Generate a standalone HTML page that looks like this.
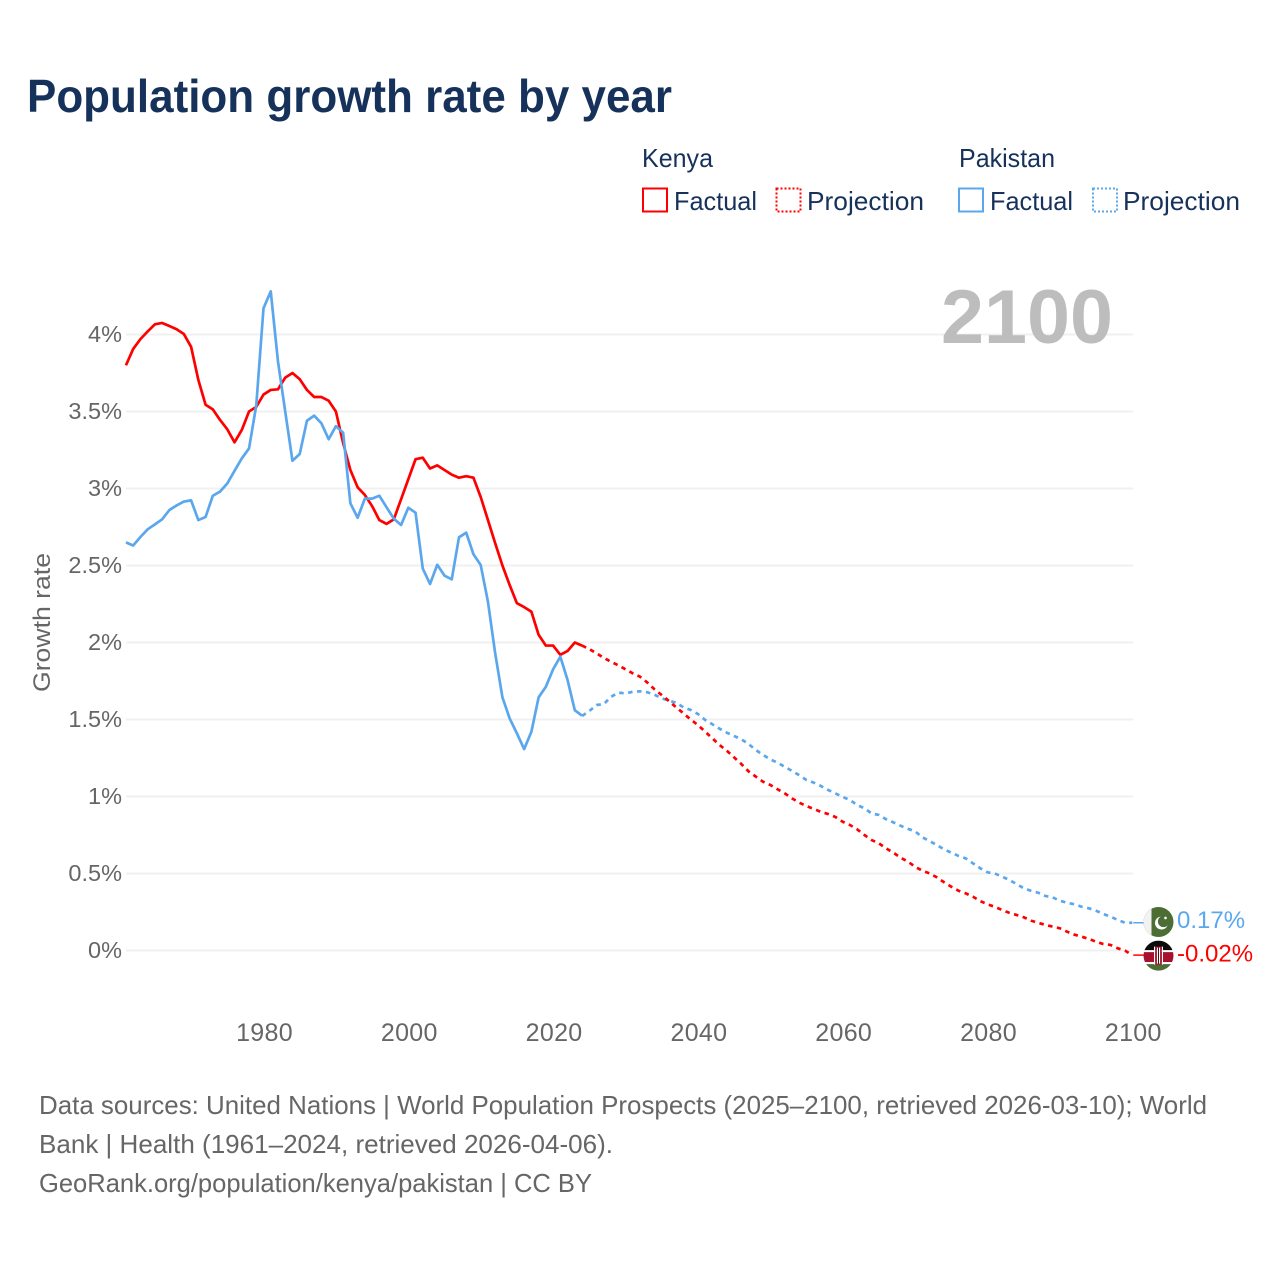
<!DOCTYPE html>
<html lang="en">
<head>
<meta charset="utf-8">
<title>Population growth rate by year</title>
<style>
html,body{margin:0;padding:0;background:#fff;}
svg{display:block;font-family:"Liberation Sans",sans-serif;}
</style>
</head>
<body>
<svg id="chart" width="1280" height="1280" viewBox="0 0 1280 1280" xmlns="http://www.w3.org/2000/svg">
  <defs>
    <clipPath id="flag-clip"><circle cx="0" cy="0" r="15"/></clipPath>
  </defs>
  <text x="27" y="112" font-size="46" font-weight="700" fill="#17325a" textLength="645" lengthAdjust="spacingAndGlyphs">Population growth rate by year</text>

  <g font-size="26" fill="#17325a">
    <text x="642" y="167" textLength="71" lengthAdjust="spacingAndGlyphs">Kenya</text>
    <rect x="643" y="188.5" width="24" height="23" fill="none" stroke="#ff0000" stroke-width="2"/>
    <text x="674" y="210" textLength="83" lengthAdjust="spacingAndGlyphs">Factual</text>
    <rect x="776.5" y="188.5" width="24" height="23" fill="none" stroke="#ff0000" stroke-width="2" stroke-dasharray="2 2"/>
    <text x="807" y="210" textLength="117" lengthAdjust="spacingAndGlyphs">Projection</text>
    <text x="959" y="167" textLength="96" lengthAdjust="spacingAndGlyphs">Pakistan</text>
    <rect x="959" y="188.5" width="24" height="23" fill="none" stroke="#5ba7ee" stroke-width="2"/>
    <text x="990" y="210" textLength="83" lengthAdjust="spacingAndGlyphs">Factual</text>
    <rect x="1093" y="188.5" width="24" height="23" fill="none" stroke="#5ba7ee" stroke-width="2" stroke-dasharray="2 2"/>
    <text x="1123" y="210" textLength="117" lengthAdjust="spacingAndGlyphs">Projection</text>
  </g>

  <g id="grid"></g>
  <g id="yticks"></g>
  <g id="xticks"></g>

  <text x="941" y="343" font-size="76" font-weight="700" fill="#bdbdbd" textLength="172" lengthAdjust="spacingAndGlyphs">2100</text>
  <text transform="translate(50,692) rotate(-90)" font-size="24" fill="#666666" textLength="139" lengthAdjust="spacingAndGlyphs">Growth rate</text>

  <g id="series"></g>

  <g id="flag-pakistan">
    <g clip-path="url(#flag-clip)">
      <rect x="-15" y="-15" width="30" height="30" fill="#4c6d33"/>
      <rect x="-15" y="-15" width="8" height="30" fill="#f2f2f2"/>
      <circle cx="3" cy="1" r="6.5" fill="#ffffff"/>
      <circle cx="5" cy="-0.5" r="5.6" fill="#4c6d33"/>
      <circle cx="7" cy="-4" r="1.3" fill="#ffffff"/>
    </g>
  </g>
  <g id="flag-kenya">
    <g clip-path="url(#flag-clip)">
      <rect x="-15" y="-15" width="30" height="10" fill="#0b0b0b"/>
      <rect x="-15" y="-5.5" width="30" height="11" fill="#ffffff"/>
      <rect x="-15" y="-3.5" width="30" height="10" fill="#a8112e"/>
      <rect x="-15" y="6.5" width="30" height="2" fill="#ffffff"/>
      <rect x="-15" y="8.5" width="30" height="7" fill="#4c6d33"/>
      <rect x="-4.5" y="-9" width="1.2" height="18" fill="#ffffff"/>
      <rect x="3.3" y="-9" width="1.2" height="18" fill="#ffffff"/>
      <rect x="-3.3" y="-9" width="6.6" height="18" fill="#a8112e"/>
      <rect x="-1.6" y="-8" width="1.2" height="16" fill="#ffffff"/>
      <rect x="0.4" y="-8" width="1.2" height="16" fill="#ffffff"/>
      <rect x="-0.4" y="-8" width="0.8" height="16" fill="#111111"/>
    </g>
  </g>
  <g id="end-labels"></g>

  <g font-size="26" fill="#666666">
    <text x="39" y="1114" textLength="1168" lengthAdjust="spacingAndGlyphs">Data sources: United Nations | World Population Prospects (2025–2100, retrieved 2026-03-10); World</text>
    <text x="39" y="1153" textLength="574" lengthAdjust="spacingAndGlyphs">Bank | Health (1961–2024, retrieved 2026-04-06).</text>
    <text x="39" y="1192" textLength="553" lengthAdjust="spacingAndGlyphs">GeoRank.org/population/kenya/pakistan | CC BY</text>
  </g>
</svg>
<script>
var factualStartYear = 1961;
var projectionStartYear = 2024;
var yTickValues = [0, 0.5, 1, 1.5, 2, 2.5, 3, 3.5, 4];
var yTickLabels = ['0%', '0.5%', '1%', '1.5%', '2%', '2.5%', '3%', '3.5%', '4%'];
var xTickYears = [1980, 2000, 2020, 2040, 2060, 2080, 2100];
var kenyaFactual = [3.80,3.906,3.97,4.02,4.066,4.075,4.055,4.034,4.003,3.92,3.705,3.544,3.514,3.445,3.384,3.30,3.38,3.50,3.53,3.61,3.64,3.644,3.72,3.75,3.71,3.64,3.594,3.594,3.57,3.50,3.295,3.12,3.008,2.958,2.886,2.795,2.77,2.80,2.93,3.06,3.19,3.20,3.13,3.15,3.12,3.09,3.07,3.08,3.07,2.945,2.795,2.645,2.50,2.373,2.255,2.23,2.20,2.05,1.98,1.98,1.92,1.945,2.00,1.98];
var pakistanFactual = [2.65,2.63,2.685,2.735,2.767,2.80,2.86,2.89,2.915,2.923,2.795,2.815,2.953,2.98,3.033,3.115,3.195,3.26,3.54,4.17,4.28,3.825,3.50,3.18,3.224,3.44,3.473,3.423,3.32,3.405,3.362,2.904,2.81,2.934,2.934,2.953,2.878,2.804,2.763,2.875,2.843,2.48,2.38,2.505,2.434,2.41,2.683,2.713,2.573,2.503,2.265,1.93,1.644,1.507,1.41,1.308,1.42,1.644,1.713,1.826,1.908,1.756,1.56,1.525];
var kenyaProjection = [1.98,1.957,1.93,1.90,1.875,1.852,1.826,1.80,1.778,1.741,1.696,1.659,1.62,1.579,1.54,1.50,1.464,1.421,1.378,1.334,1.297,1.254,1.211,1.163,1.129,1.096,1.075,1.047,1.02,0.988,0.96,0.938,0.919,0.90,0.886,0.867,0.836,0.815,0.787,0.75,0.717,0.696,0.663,0.635,0.603,0.577,0.544,0.518,0.501,0.475,0.443,0.414,0.388,0.371,0.349,0.321,0.30,0.284,0.263,0.245,0.231,0.216,0.194,0.18,0.166,0.155,0.144,0.122,0.103,0.09,0.075,0.057,0.042,0.036,0.014,-0.001,-0.03];
var pakistanProjection = [1.523,1.555,1.594,1.60,1.647,1.674,1.67,1.68,1.683,1.677,1.661,1.638,1.622,1.609,1.579,1.562,1.536,1.497,1.469,1.44,1.414,1.393,1.371,1.341,1.302,1.27,1.241,1.22,1.193,1.166,1.138,1.107,1.09,1.068,1.042,1.02,0.997,0.977,0.945,0.923,0.89,0.88,0.852,0.832,0.81,0.79,0.774,0.735,0.711,0.685,0.657,0.635,0.614,0.598,0.566,0.534,0.508,0.50,0.48,0.458,0.432,0.404,0.388,0.375,0.354,0.345,0.323,0.31,0.30,0.284,0.274,0.258,0.237,0.22,0.198,0.18,0.18];
var endLabelPakistan = '0.17%';
var endLabelKenya = '-0.02%';

var SVG_NS = 'http://www.w3.org/2000/svg';
var RED = '#ff0000';
var BLUE = '#5ba7ee';
var FLAG_X = 1158.5;

function xScale(year) { return 263.5 + (year - 1980) * 7.24; }
function yScale(value) { return 950.5 - value * 154; }

function make(tag, attrs, parent) {
  var el = document.createElementNS(SVG_NS, tag);
  for (var k in attrs) { el.setAttribute(k, attrs[k]); }
  parent.appendChild(el);
  return el;
}

function linePath(values, startYear) {
  var d = '';
  for (var i = 0; i < values.length; i++) {
    d += (i === 0 ? 'M' : 'L') + xScale(startYear + i).toFixed(2) + ' ' + yScale(values[i]).toFixed(2) + ' ';
  }
  return d;
}

var gridG = document.getElementById('grid');
var yTicksG = document.getElementById('yticks');
yTickValues.forEach(function (v, i) {
  var line = make('line', {x1: 126, x2: 1133, y1: yScale(v), y2: yScale(v), stroke: '#f0f0f0', 'stroke-width': 2}, gridG);
  
  
  var t = make('text', {x: 122, y: yScale(v) + 7.5, 'text-anchor': 'end', 'font-size': 23.5, fill: '#666666'}, yTicksG);
  
  
  t.textContent = yTickLabels[i];
});

var xTicksG = document.getElementById('xticks');
xTickYears.forEach(function (yr) {
  var t = make('text', {x: xScale(yr) + 1, y: 1041, 'text-anchor': 'middle', 'font-size': 25, 'letter-spacing': '0.3', fill: '#666666'}, xTicksG);
  
  
  t.textContent = String(yr);
});

var seriesG = document.getElementById('series');

function drawProjection(values, color, name) {
  var p = make('path', {d: linePath(values, projectionStartYear), fill: 'none', stroke: color, 'stroke-width': 2.7, 'stroke-dasharray': '4.5 4.5', 'stroke-linejoin': 'round'}, seriesG);
  
  
}
function drawFactual(values, color, name) {
  var p = make('path', {d: linePath(values, factualStartYear), fill: 'none', stroke: color, 'stroke-width': 2.7, 'stroke-linejoin': 'round'}, seriesG);
  
  
}
function drawConnector(values, color, name) {
  var last = values[values.length - 1];
  var c = make('line', {x1: xScale(2100) + 1, x2: FLAG_X, y1: yScale(last), y2: yScale(last), stroke: color, 'stroke-width': 1.5}, seriesG);
  
  
}

drawProjection(pakistanProjection, BLUE, 'pakistan-projection-line');
drawProjection(kenyaProjection, RED, 'kenya-projection-line');
drawFactual(kenyaFactual, RED, 'kenya-factual-line');
drawFactual(pakistanFactual, BLUE, 'pakistan-factual-line');
drawConnector(pakistanProjection, BLUE, 'pakistan-end-connector');
drawConnector(kenyaProjection, RED, 'kenya-end-connector');

var labelsG = document.getElementById('end-labels');
var pakY = yScale(pakistanProjection[pakistanProjection.length - 1]);
var kenY = yScale(kenyaProjection[kenyaProjection.length - 1]);
document.getElementById('flag-pakistan').setAttribute('transform', 'translate(' + FLAG_X + ',' + (pakY - 0.8) + ')');
document.getElementById('flag-kenya').setAttribute('transform', 'translate(' + FLAG_X + ',' + (kenY + 0.5) + ')');

var pakLabel = make('text', {x: 1177, y: pakY + 5, 'font-size': 24, fill: BLUE}, labelsG);


pakLabel.textContent = endLabelPakistan;

var kenLabel = make('text', {x: 1177, y: kenY + 6.5, 'font-size': 24, fill: RED}, labelsG);


kenLabel.textContent = endLabelKenya;
</script>
</body>
</html>
